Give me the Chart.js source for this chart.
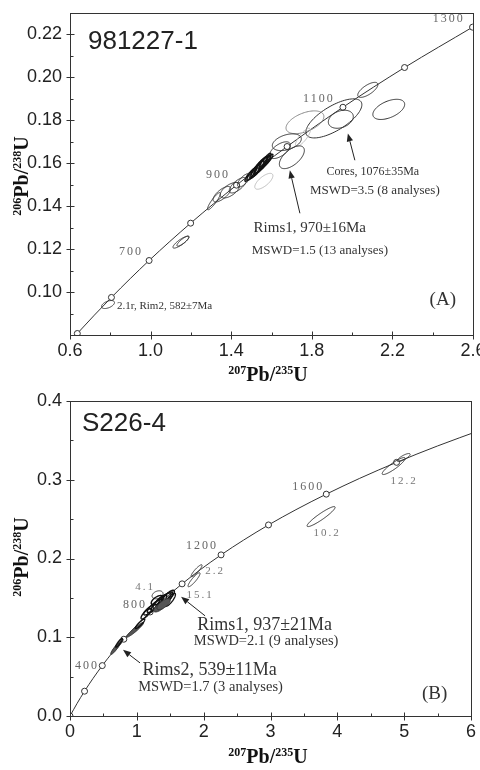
<!DOCTYPE html>
<html><head><meta charset="utf-8">
<script src="https://cdn.jsdelivr.net/npm/chart.js@4.4.1/dist/chart.umd.min.js"></script>
<style>
html,body{margin:0;padding:0;background:#fff;}
#wrap{position:relative;width:480px;height:770px;overflow:hidden;background:#fff;}
.box{position:absolute;left:0;width:480px;height:385px;}
</style></head><body>
<div id="wrap">
<div class="box" style="top:0"><canvas id="cA" width="480" height="385"></canvas></div>
<div class="box" style="top:385px"><canvas id="cB" width="480" height="385"></canvas></div>
</div>
<script>
// ===== Panel A: sample 981227-1 =====
const concAgesA = [450, 500, 600, 700, 800, 900, 1000, 1100, 1200, 1300];
const concXA = [0.5577, 0.6363, 0.8056, 0.9925, 1.1987, 1.4263, 1.6774, 1.9545, 2.2603, 2.5977];
const concYA = [0.0723, 0.0807, 0.0975, 0.1147, 0.1321, 0.1498, 0.1678, 0.1861, 0.2046, 0.2234];
const markAgesA = [500, 600, 700, 800, 900, 1000, 1100, 1200, 1300];
const xTicksA = [0.6, 1.0, 1.4, 1.8, 2.2, 2.6];
const xMinorA = [0.8, 1.2, 1.6, 2.0, 2.4];
const yTicksA = [0.10, 0.12, 0.14, 0.16, 0.18, 0.20, 0.22];
const yMinorA = [0.09, 0.11, 0.13, 0.15, 0.17, 0.19, 0.21];
// error ellipses: centre (x, y), half-extent (sx, sy), correlation rho
const ellXA   = [1.9095, 1.944, 2.078, 2.182, 1.766, 1.756, 1.676, 1.701, 1.562, 1.642,
                 1.4978, 1.5127, 1.5276, 1.5375, 1.5474, 1.5573, 1.5673, 1.5821,
                 1.3143, 1.354, 1.3937, 1.4333, 1.4631, 1.1506, 1.1605, 0.7885];
const ellYA   = [0.1809, 0.1805, 0.1942, 0.1851, 0.1791, 0.1721, 0.1698, 0.1628, 0.1516, 0.1661,
                 0.15488, 0.15581, 0.15721, 0.15814, 0.15907, 0.15953, 0.16093, 0.1614,
                 0.14233, 0.14558, 0.14744, 0.14977, 0.1521, 0.12326, 0.12372, 0.09419];
const ellSXA  = [0.139, 0.062, 0.050, 0.079, 0.094, 0.037, 0.072, 0.062, 0.045, 0.052,
                 0.0298, 0.0347, 0.0347, 0.0397, 0.0347, 0.0397, 0.0298, 0.0248,
                 0.032, 0.044, 0.048, 0.043, 0.032, 0.0397, 0.0298, 0.0322];
const ellSYA  = [0.0091, 0.0042, 0.0035, 0.0047, 0.0053, 0.0042, 0.0039, 0.0053, 0.0037, 0.0039,
                 0.00326, 0.00372, 0.00419, 0.00465, 0.00419, 0.00419, 0.00372, 0.00279,
                 0.0040, 0.0036, 0.0036, 0.0036, 0.0031, 0.00279, 0.00233, 0.00186];
const ellRhoA = [0.7, 0.3, 0.7, 0.5, 0.5, 0.8, 0.4, 0.6, 0.7, 0.6,
                 0.9, 0.9, 0.9, 0.9, 0.9, 0.9, 0.9, 0.9,
                 0.9, 0.7, 0.6, 0.7, 0.7, 0.85, 0.85, 0.5];
const ellKindA = ['n','n','n','n','g','l','n','n','l','n',
                  'd','d','d','d','d','d','d','d',
                  'n','n','n','n','n','n','n','n'];
const textsA = [
  {t:'981227-1', x:0.6893, y:0.2167, s:'title', a:'left'},
  {t:'1300', x:2.480, y:0.2272, s:'age'},
  {t:'1100', x:1.835, y:0.1900, s:'age'},
  {t:'900',  x:1.334, y:0.1547, s:'age'},
  {t:'700',  x:0.9026, y:0.1188, s:'age'},
  {t:'Cores, 1076±35Ma', x:2.103, y:0.1558, s:'a12'},
  {t:'MSWD=3.5 (8 analyses)', x:2.113, y:0.1474, s:'a13'},
  {t:'Rims1, 970±16Ma', x:1.790, y:0.1298, s:'a15'},
  {t:'MSWD=1.5 (13 analyses)', x:1.840, y:0.1195, s:'a13'},
  {t:'2.1r, Rim2, 582±7Ma', x:0.8331, y:0.0935, s:'a11', a:'left'},
  {t:'(A)', x:2.450, y:0.0963, s:'panel'}
];
const arrowsA = [
  {x1:2.0137, y1:0.1614, x2:1.979, y2:0.1739},
  {x1:1.741, y1:0.1367, x2:1.691, y2:0.1567}
];

// ===== Panel B: sample S226-4 =====
const concAgesB = [0, 100, 200, 300, 400, 500, 600, 700, 800, 900, 1000, 1100, 1200, 1300, 1400, 1500, 1600, 1700, 1800, 1900, 2000];
const concXB = [0, 0.1035, 0.2177, 0.3437, 0.4828, 0.6363, 0.8056, 0.9925, 1.1987, 1.4263, 1.6774, 1.9545, 2.2603, 2.5977, 2.9701, 3.3810, 3.8344, 4.3348, 4.8869, 5.4962, 6.1685];
const concYB = [0, 0.0156, 0.0315, 0.0476, 0.0640, 0.0807, 0.0975, 0.1147, 0.1321, 0.1498, 0.1678, 0.1861, 0.2046, 0.2234, 0.2426, 0.2620, 0.2817, 0.3018, 0.3221, 0.3428, 0.3638];
const markAgesB = [0, 200, 400, 600, 800, 1000, 1200, 1400, 1600, 1800];
const xTicksB = [0, 1, 2, 3, 4, 5, 6];
const xMinorB = [0.5, 1.5, 2.5, 3.5, 4.5, 5.5];
const yTicksB = [0.0, 0.1, 0.2, 0.3, 0.4];
const yMinorB = [0.05, 0.15, 0.25, 0.35];
const ellXB   = [4.843, 4.993, 3.757, 1.894, 1.856, 1.31,
                 1.198, 1.272, 1.332, 1.377, 1.422, 1.467, 1.347, 1.138, 1.497, 1.305, 1.40,
                 0.973, 1.048, 0.711, 0.674, 0.734];
const ellYB   = [0.3174, 0.3282, 0.2532, 0.1845, 0.173, 0.1539,
                 0.1349, 0.1399, 0.1438, 0.1463, 0.1476, 0.1514, 0.1387, 0.1298, 0.1476, 0.1470, 0.1420,
                 0.1094, 0.117, 0.0891, 0.0852, 0.0929];
const ellSXB  = [0.172, 0.097, 0.21, 0.082, 0.09, 0.082,
                 0.095, 0.115, 0.115, 0.135, 0.115, 0.095, 0.095, 0.075, 0.08, 0.09, 0.10,
                 0.13, 0.07, 0.085, 0.065, 0.05];
const ellSYB  = [0.0108, 0.0051, 0.0127, 0.0076, 0.0089, 0.0051,
                 0.0066, 0.0083, 0.0099, 0.0099, 0.0099, 0.0083, 0.0066, 0.0066, 0.0083, 0.0060, 0.0070,
                 0.0095, 0.0060, 0.0085, 0.0070, 0.0055];
const ellRhoB = [0.9, 0.8, 0.93, 0.9, 0.9, 0.3,
                 0.8, 0.85, 0.85, 0.85, 0.8, 0.8, 0.7, 0.8, 0.8, 0.6, 0.7,
                 0.95, 0.9, 0.95, 0.9, 0.9];
const ellKindB = ['n','n','n','n','n','n',
                  'd','d','d','d','d','d','f','d','d','d','f',
                  'f','d','f','f','d'];
const textsB = [
  {t:'S226-4', x:0.18, y:0.3707, s:'title', a:'left'},
  {t:'12.2', x:5.0, y:0.2983, s:'id'},
  {t:'10.2', x:3.847, y:0.2322, s:'id'},
  {t:'2.2',  x:2.171, y:0.1838, s:'id'},
  {t:'15.1', x:1.946, y:0.1539, s:'id'},
  {t:'4.1',  x:1.123, y:0.1641, s:'id'},
  {t:'400',  x:0.254, y:0.0636, s:'age'},
  {t:'800',  x:0.973, y:0.1412, s:'age'},
  {t:'1200', x:1.976, y:0.2157, s:'age'},
  {t:'1600', x:3.563, y:0.2913, s:'age'},
  {t:'Rims1, 937±21Ma', x:2.912, y:0.1158, s:'a18'},
  {t:'MSWD=2.1 (9 analyses)', x:2.934, y:0.0954, s:'a14'},
  {t:'Rims2, 539±11Ma', x:2.088, y:0.0579, s:'a18'},
  {t:'MSWD=1.7 (3 analyses)', x:2.103, y:0.0369, s:'a14'},
  {t:'(B)', x:5.457, y:0.0280, s:'panel'}
];
const arrowsB = [
  {x1:2.021, y1:0.1272, x2:1.662, y2:0.1514},
  {x1:1.048, y1:0.0674, x2:0.793, y2:0.0840}
];

// ===== drawing helpers =====
const SANS = '"Liberation Sans", Arial, sans-serif';
const SERIF = '"Liberation Serif", "Times New Roman", serif';
const textStyles = {
  title: {font: '26px ' + SANS, color: '#222', ls: '0px'},
  age:   {font: '12px ' + SERIF, color: '#666', ls: '2px'},
  id:    {font: '11px ' + SERIF, color: '#777', ls: '2px'},
  a11:   {font: '11px ' + SERIF, color: '#333', ls: '0px'},
  a12:   {font: '12px ' + SERIF, color: '#333', ls: '0px'},
  a13:   {font: '13px ' + SERIF, color: '#333', ls: '0px'},
  a14:   {font: '14.5px ' + SERIF, color: '#333', ls: '0px'},
  a15:   {font: '15px ' + SERIF, color: '#333', ls: '0px'},
  a18:   {font: '18px ' + SERIF, color: '#333', ls: '0px'},
  panel: {font: '19px ' + SERIF, color: '#333', ls: '0px'}
};
const ellStyles = {
  n: {stroke: '#333', w: 1, fill: null},
  g: {stroke: '#888', w: 1, fill: null},
  l: {stroke: '#bbb', w: 1, fill: null},
  d: {stroke: '#111', w: 1.4, fill: null},
  f: {stroke: '#333', w: 1, fill: '#555'}
};

function pick(ages, xs, ys, wanted) {
  const out = [];
  ages.forEach((a, i) => { if (wanted.includes(a)) out.push({x: xs[i], y: ys[i]}); });
  return out;
}

function drawRatio(ctx, cx, cy, rot, supA, mainA, supB, mainB) {
  const big = 'bold 20px ' + SERIF, small = 'bold 12px ' + SERIF;
  ctx.save();
  ctx.translate(cx, cy);
  if (rot) ctx.rotate(-Math.PI / 2);
  const parts = [[supA, small, -7], [mainA, big, 0], [supB, small, -7], [mainB, big, 0]];
  let total = 0;
  parts.forEach(p => { ctx.font = p[1]; total += ctx.measureText(p[0]).width; });
  let x = -total / 2;
  ctx.fillStyle = '#111';
  ctx.textBaseline = 'alphabetic';
  ctx.textAlign = 'left';
  parts.forEach(p => { ctx.font = p[1]; ctx.fillText(p[0], x, 7 + p[2]); x += ctx.measureText(p[0]).width; });
  ctx.restore();
}

function decor(cfg) {
  return {
    id: 'decor' + cfg.key,
    afterDatasetsDraw(chart) {
      const ctx = chart.ctx, xs = chart.scales.x, ys = chart.scales.y, ca = chart.chartArea;
      ctx.save();
      ctx.beginPath(); ctx.rect(ca.left, ca.top, ca.right - ca.left, ca.bottom - ca.top); ctx.clip();
      for (let k = 0; k < cfg.ex.length; k++) {
        const st = ellStyles[cfg.ek[k]];
        const r = cfg.er[k], r2 = Math.sqrt(1 - r * r);
        ctx.beginPath();
        for (let i = 0; i <= 90; i++) {
          const t = i / 90 * 2 * Math.PI;
          const X = cfg.ex[k] + cfg.esx[k] * Math.cos(t);
          const Y = cfg.ey[k] + cfg.esy[k] * (r * Math.cos(t) + r2 * Math.sin(t));
          const px = xs.getPixelForValue(X), py = ys.getPixelForValue(Y);
          if (i === 0) ctx.moveTo(px, py); else ctx.lineTo(px, py);
        }
        ctx.closePath();
        if (st.fill) { ctx.fillStyle = st.fill; ctx.fill(); }
        ctx.strokeStyle = st.stroke; ctx.lineWidth = st.w; ctx.stroke();
      }
      ctx.restore();
      // arrows
      ctx.save();
      ctx.strokeStyle = '#222'; ctx.fillStyle = '#222'; ctx.lineWidth = 1;
      cfg.arrows.forEach(a => {
        const x1 = xs.getPixelForValue(a.x1), y1 = ys.getPixelForValue(a.y1);
        const x2 = xs.getPixelForValue(a.x2), y2 = ys.getPixelForValue(a.y2);
        const ang = Math.atan2(y2 - y1, x2 - x1);
        const L = 8, W = 3.2;
        const bx = x2 - L * Math.cos(ang), by = y2 - L * Math.sin(ang);
        ctx.beginPath(); ctx.moveTo(x1, y1); ctx.lineTo(bx, by); ctx.stroke();
        ctx.beginPath();
        ctx.moveTo(x2, y2);
        ctx.lineTo(bx + W * Math.sin(ang), by - W * Math.cos(ang));
        ctx.lineTo(bx - W * Math.sin(ang), by + W * Math.cos(ang));
        ctx.closePath(); ctx.fill();
      });
      ctx.restore();
      // texts
      ctx.save();
      ctx.textBaseline = 'middle';
      cfg.texts.forEach(o => {
        const st = textStyles[o.s];
        ctx.font = st.font; ctx.fillStyle = st.color;
        ctx.letterSpacing = st.ls;
        ctx.textAlign = o.a || 'center';
        ctx.fillText(o.t, xs.getPixelForValue(o.x), ys.getPixelForValue(o.y));
      });
      ctx.letterSpacing = '0px';
      ctx.restore();
    },
    afterDraw(chart) {
      const ctx = chart.ctx, xs = chart.scales.x, ys = chart.scales.y, ca = chart.chartArea;
      ctx.save();
      ctx.strokeStyle = '#333'; ctx.lineWidth = 1;
      ctx.strokeRect(Math.round(ca.left) + 0.5, Math.round(ca.top) + 0.5, Math.round(ca.right - ca.left), Math.round(ca.bottom - ca.top));
      const b = Math.round(ca.bottom) + 0.5, l = Math.round(ca.left) + 0.5;
      ctx.beginPath();
      cfg.xMajor.forEach(v => { const p = Math.round(xs.getPixelForValue(v)) + 0.5; ctx.moveTo(p, b - 4); ctx.lineTo(p, b + 4); });
      cfg.xMinor.forEach(v => { const p = Math.round(xs.getPixelForValue(v)) + 0.5; ctx.moveTo(p, b - 3); ctx.lineTo(p, b); });
      cfg.yMajor.forEach(v => { const p = Math.round(ys.getPixelForValue(v)) + 0.5; ctx.moveTo(l - 4, p); ctx.lineTo(l + 4, p); });
      cfg.yMinor.forEach(v => { const p = Math.round(ys.getPixelForValue(v)) + 0.5; ctx.moveTo(l, p); ctx.lineTo(l + 3, p); });
      ctx.stroke();
      ctx.restore();
      drawRatio(ctx, 268, cfg.xTitleY, false, '207', 'Pb/', '235', 'U');
      drawRatio(ctx, 21, cfg.yTitleY, true, '206', 'Pb/', '238', 'U');
    }
  };
}

function makeChart(canvasId, cfg) {
  return new Chart(document.getElementById(canvasId), {
    type: 'scatter',
    data: {
      datasets: [
        {label: 'Concordia', data: cfg.conc, showLine: true, borderColor: '#333', borderWidth: 1,
         pointRadius: 0, cubicInterpolationMode: 'monotone', order: 2},
        {label: 'Age marks', data: cfg.marks, showLine: false, pointRadius: 3,
         pointBackgroundColor: '#fff', pointBorderColor: '#333', pointBorderWidth: 1, order: 1}
      ]
    },
    options: {
      responsive: false, animation: false, events: [],
      layout: {padding: {top: cfg.padTop, right: cfg.padRight, left: 0, bottom: 0}},
      plugins: {legend: {display: false}, tooltip: {enabled: false}},
      scales: {
        x: {
          type: 'linear', min: cfg.xMin, max: cfg.xMax,
          afterBuildTicks: s => { s.ticks = cfg.xMajor.map(v => ({value: v})); },
          afterFit: s => { s.height = cfg.xAxisH; s.paddingLeft = 0; s.paddingRight = 0; },
          ticks: {font: {family: SANS, size: 18}, color: '#222', padding: 5, maxRotation: 0,
                  autoSkip: false, callback: v => v.toFixed(cfg.xDec)},
          grid: {display: false, drawTicks: false}, border: {display: false}
        },
        y: {
          type: 'linear', min: cfg.yMin, max: cfg.yMax,
          afterBuildTicks: s => { s.ticks = cfg.yMajor.map(v => ({value: v})); },
          afterFit: s => { s.width = 70; s.paddingTop = 0; s.paddingBottom = 0; },
          ticks: {font: {family: SANS, size: 18}, color: '#222', padding: 8,
                  autoSkip: false, callback: v => v.toFixed(cfg.yDec)},
          grid: {display: false, drawTicks: false}, border: {display: false}
        }
      }
    },
    plugins: [decor(cfg)]
  });
}

const cfgA = {
  key: 'A',
  conc: concXA.map((x, i) => ({x: x, y: concYA[i]})),
  marks: pick(concAgesA, concXA, concYA, markAgesA),
  xMin: 0.6, xMax: 2.6, yMin: 0.08, yMax: 0.23, xDec: 1, yDec: 2,
  xMajor: xTicksA, xMinor: xMinorA, yMajor: yTicksA, yMinor: yMinorA,
  ex: ellXA, ey: ellYA, esx: ellSXA, esy: ellSYA, er: ellRhoA, ek: ellKindA,
  texts: textsA, arrows: arrowsA,
  padTop: 13, padRight: 7, xAxisH: 50, xTitleY: 374, yTitleY: 176
};
const cfgB = {
  key: 'B',
  conc: concXB.map((x, i) => ({x: x, y: concYB[i]})),
  marks: pick(concAgesB, concXB, concYB, markAgesB),
  xMin: 0, xMax: 6, yMin: 0, yMax: 0.4, xDec: 0, yDec: 1,
  xMajor: xTicksB, xMinor: xMinorB, yMajor: yTicksB, yMinor: yMinorB,
  ex: ellXB, ey: ellYB, esx: ellSXB, esy: ellSYB, er: ellRhoB, ek: ellKindB,
  texts: textsB, arrows: arrowsB,
  padTop: 16, padRight: 9, xAxisH: 54, xTitleY: 371, yTitleY: 172
};
makeChart('cA', cfgA);
makeChart('cB', cfgB);
</script>
</body></html>
